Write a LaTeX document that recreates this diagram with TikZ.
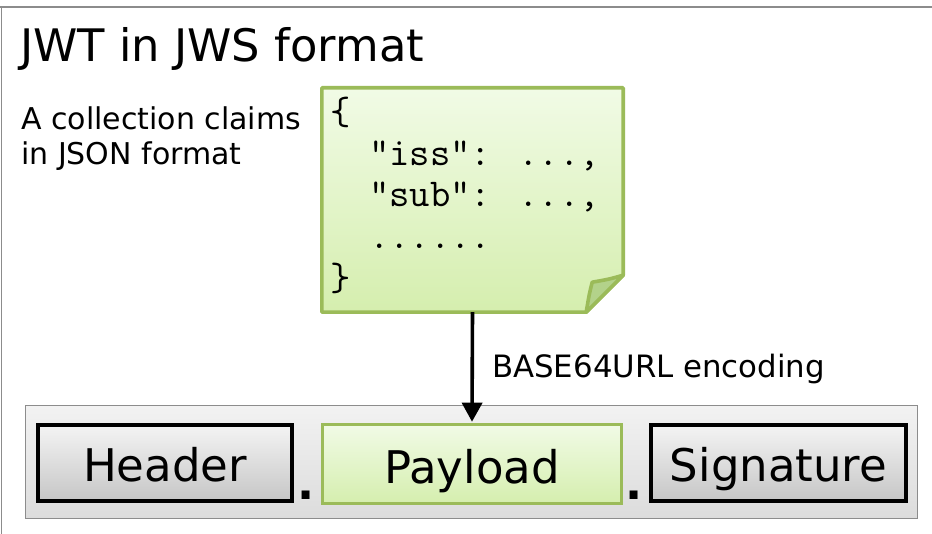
\documentclass[tikz,border=0pt]{standalone}
\usepackage{fontspec}
\setmainfont{DejaVu Sans}
\usetikzlibrary{arrows.meta}

\definecolor{framegray}{HTML}{8C8C8C}
\definecolor{leafgreen}{HTML}{9BBB59}
\definecolor{notetop}{HTML}{F1FBE6}
\definecolor{notebot}{HTML}{D5EEAE}
\definecolor{foldgreen}{HTML}{B3D28A}
\definecolor{bartop}{HTML}{F2F2F2}
\definecolor{barbot}{HTML}{DCDCDC}
\definecolor{boxtop}{HTML}{F4F4F4}
\definecolor{boxbot}{HTML}{C6C6C6}

\tikzset{
  part/.style={rectangle, inner sep=0pt, text height=38pt, text depth=0pt,
    font=\fontsize{45}{54}\selectfont},
  grayPart/.style={part, draw=black, line width=4.2pt,
    top color=boxtop, bottom color=boxbot},
  greenPart/.style={part, draw=leafgreen, line width=3.6pt,
    top color=notetop, bottom color=notebot},
  sep/.style={inner sep=0pt, anchor=base, font=\bfseries\fontsize{45}{54}\selectfont},
  codeline/.style={inner sep=0pt, anchor=base west,
    font=\ttfamily\fontsize{39.5}{42}\selectfont},
}

\begin{document}
\begin{tikzpicture}[x=1pt, y=-1pt]
  \useasboundingbox (0,0) rectangle (932,534);

  % page frame (top and left edges)
  \draw[framegray, line width=1.5pt] (0,7) -- (932,7);
  \draw[framegray, line width=1.5pt] (1.5,7) -- (1.5,534);

  % heading and description
  \node[inner sep=0pt, anchor=base west, font=\fontsize{44.8}{52}\selectfont]
    (title) at (20,62) {JWT in JWS format};
  \node[inner sep=0pt, anchor=north west, align=left,
        font=\fontsize{30}{35}\selectfont]
    (desc) at (21,107) {A collection claims\\in JSON format};

  % claims note with folded corner
  \node[minimum width=301pt, minimum height=224pt, inner sep=0pt]
    (note) at (472.5,200) {};
  \path[top color=notetop, bottom color=notebot, draw=leafgreen,
        line width=3.6pt, line join=round]
    (note.north west) -- (note.north east) -- ([yshift=37pt]note.south east)
    -- ([xshift=-37pt]note.south east) -- (note.south west) -- cycle;
  \path[fill=foldgreen, draw=leafgreen, line width=3.6pt, line join=round]
    ([yshift=37pt]note.south east)
    .. controls ([xshift=-14pt,yshift=33pt]note.south east)
    .. ([xshift=-31pt,yshift=30pt]note.south east)
    .. controls ([xshift=-34pt,yshift=18pt]note.south east)
    .. ([xshift=-37pt]note.south east)
    -- cycle;

  \node[codeline] (c1) at (330,125) {\{};
  \node[codeline] (c2) at (369,166) {"iss": ...,};
  \node[codeline] (c3) at (369,207) {"sub": ...,};
  \node[codeline] (c4) at (369,249) {......};
  \node[codeline] (c5) at (330,291) {\}};

  % token bar
  \node[rectangle, minimum width=892pt, minimum height=112pt, inner sep=0pt,
        draw=framegray, line width=1pt, top color=bartop, bottom color=barbot]
    (bar) at (471,462) {};

  \node[grayPart, minimum width=254pt, minimum height=76pt]
    (header) at (165,463) {Header};
  \node[greenPart, minimum width=299pt, minimum height=79pt]
    (payload) at (472,464) {Payload};
  \node[grayPart, minimum width=255pt, minimum height=76pt]
    (signature) at (778.5,463) {Signature};

  \node[sep] (dot1) at (306,500) {.};
  \node[sep] (dot2) at (634,500) {.};

  % encoding step
  \draw[line width=3.6pt, -{Triangle[width=20pt,length=19pt]}]
    (note.south) -- ([yshift=1pt]payload.north);
  \node[inner sep=0pt, anchor=west, font=\fontsize{30.8}{36}\selectfont]
    (enc) at (492,369) {BASE64URL encoding};
\end{tikzpicture}
\end{document}
